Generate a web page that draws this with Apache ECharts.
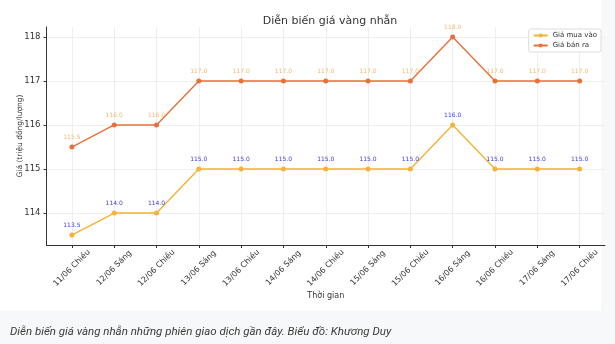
<!DOCTYPE html>
<html>
<head>
<meta charset="utf-8">
<script src="https://cdn.jsdelivr.net/npm/echarts@6/dist/echarts.min.js"></script>
<style>
  html, body { margin: 0; padding: 0; background: #f7f8f9; }
  #chart { width: 615px; height: 344px; }
</style>
</head>
<body>
<div id="chart"></div>
<script>
// Trading sessions (day/month + morning or afternoon)
const sessions = ['11/06 Chiều', '12/06 Sáng', '12/06 Chiều', '13/06 Sáng', '13/06 Chiều',
  '14/06 Sáng', '14/06 Chiều', '15/06 Sáng', '15/06 Chiều', '16/06 Sáng',
  '16/06 Chiều', '17/06 Sáng', '17/06 Chiều'];
// Prices in million VND per tael
const buyPrices = [113.5, 114.0, 114.0, 115.0, 115.0, 115.0, 115.0, 115.0, 115.0, 116.0, 115.0, 115.0, 115.0];
const sellPrices = [115.5, 116.0, 116.0, 117.0, 117.0, 117.0, 117.0, 117.0, 117.0, 118.0, 117.0, 117.0, 117.0];
const yTicks = [114, 115, 116, 117, 118];

const FONT = 'DejaVu Sans';
const idx = sessions.map((_, i) => i);
const pad = (sessions.length - 1) * 0.05;
const yPad = (Math.max(...sellPrices) - Math.min(...buyPrices)) * 0.05;

function series(name, values, color, labelColor) {
  return {
    name, type: 'line',
    data: values.map((v, i) => [i, v]),
    symbol: 'circle', symbolSize: 5,
    lineStyle: { color, width: 1.4 },
    itemStyle: { color },
    label: {
      show: true, position: 'top', distance: 4,
      formatter: p => p.value[1].toFixed(1),
      color: labelColor, fontSize: 6, fontFamily: FONT
    },
    emphasis: { disabled: true }
  };
}

const chart = echarts.init(document.getElementById('chart'), null, { renderer: 'canvas' });
chart.setOption({
  animation: false,
  backgroundColor: 'transparent',
  graphic: [
    { type: 'rect', z: -10, shape: { x: 0, y: 0, width: 601, height: 311 }, style: { fill: '#ffffff' } },
    { type: 'text', left: 10, top: 326,
      style: { text: 'Diễn biến giá vàng nhẫn những phiên giao dịch gần đây. Biểu đồ: Khương Duy',
        font: 'italic 11.5px Roboto', fill: '#3a3a3a' } }
  ],
  title: {
    text: 'Diễn biến giá vàng nhẫn', left: 325, top: 11, textAlign: 'center',
    textStyle: { fontFamily: FONT, fontSize: 11, fontWeight: 'normal', color: '#333333' }
  },
  legend: {
    right: 14, top: 29, orient: 'vertical', itemGap: 3,
    itemWidth: 14, itemHeight: 5,
    backgroundColor: '#ffffff', borderColor: '#dddddd', borderWidth: 1, borderRadius: 2,
    padding: [3, 4, 3, 4],
    textStyle: { fontFamily: FONT, fontSize: 7, color: '#333333' },
    data: ['Giá mua vào', 'Giá bán ra']
  },
  grid: { left: 46.5, right: 10, top: 27, bottom: 99, containLabel: false },
  xAxis: {
    type: 'value', min: -pad, max: sessions.length - 1 + pad,
    name: 'Thời gian', nameLocation: 'middle', nameGap: 47, nameMoveOverlap: false,
    nameTextStyle: { fontFamily: FONT, fontSize: 8, color: '#333333' },
    axisLine: { show: true, onZero: false, lineStyle: { color: '#333333', width: 1 } },
    axisTick: { show: true, customValues: idx, length: 3, lineStyle: { color: '#333333' } },
    axisLabel: {
      customValues: idx, rotate: 45, margin: 23,
      align: 'center', verticalAlign: 'middle',
      formatter: v => sessions[Math.round(v)],
      fontFamily: FONT, fontSize: 8, color: '#333333'
    },
    splitLine: { show: true, lineStyle: { color: '#ebebeb', width: 0.8 } }
  },
  yAxis: {
    type: 'value', min: Math.min(...buyPrices) - yPad, max: Math.max(...sellPrices) + yPad,
    name: 'Giá (triệu đồng/lượng)', nameLocation: 'middle', nameGap: 22.5, nameRotate: 90,
    nameMoveOverlap: false,
    nameTextStyle: { fontFamily: FONT, fontSize: 7.5, color: '#333333' },
    axisLine: { show: true, onZero: false, lineStyle: { color: '#333333', width: 1 } },
    axisTick: { show: true, customValues: yTicks, length: 3, lineStyle: { color: '#333333' } },
    axisLabel: { customValues: yTicks, margin: 6, fontFamily: FONT, fontSize: 8.5, color: '#333333' },
    splitLine: { show: true, lineStyle: { color: '#ebebeb', width: 0.8 } }
  },
  series: [
    series('Giá mua vào', buyPrices, '#f5b335', '#3a3ae0'),
    series('Giá bán ra', sellPrices, '#e8703a', '#f2b870')
  ]
});
</script>
</body>
</html>
